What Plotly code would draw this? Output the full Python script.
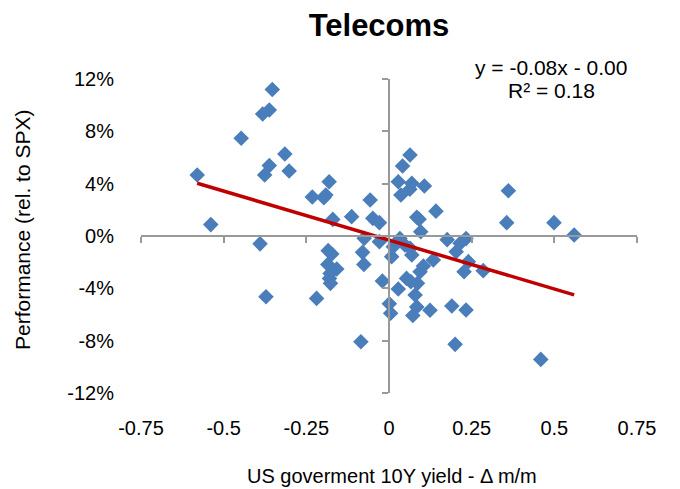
import numpy as np
import plotly.graph_objects as go

# US 10Y yield change m/m (x) and Telecoms performance rel. to SPX in % (y)
yield_change = [
    -0.580, -0.539, -0.447, -0.382, -0.362, -0.353, -0.315, -0.362, -0.302, -0.376,
    -0.390, -0.372, -0.232, -0.197, -0.191, -0.181, -0.170, -0.219, -0.184, -0.173,
    -0.185, -0.158, -0.178, -0.180, -0.177, -0.113, -0.057, -0.049, -0.029, -0.075,
    -0.029, -0.080, -0.076, -0.020, -0.085,
    0.0635, 0.041, 0.028, 0.069, 0.063, 0.107, 0.036, 0.361, 0.142, 0.084,
    0.091, 0.096, 0.356, 0.499, 0.560, 0.033, 0.176, 0.233, 0.215, 0.203,
    0.013, 0.048, 0.064, 0.008, 0.069, 0.134, 0.240, 0.285, 0.227, 0.104,
    0.094, 0.053, 0.066, 0.086, 0.028, 0.079, 0.001, 0.005, 0.084, 0.072,
    0.124, 0.190, 0.233, 0.200, 0.459,
]
performance = [
    4.66, 0.87, 7.47, 9.33, 9.63, 11.2, 6.27, 5.38, 4.97, 4.66,
    -0.60, -4.64, 2.98, 2.93, 3.13, 4.15, 1.27, -4.77, -1.12, -1.38,
    -2.17, -2.52, -2.86, -3.24, -3.62, 1.48, 2.75, 1.35, 1.02, -0.18,
    -0.43, -1.25, -2.17, -3.44, -8.08,
    6.19, 5.35, 4.15, 4.03, 3.57, 3.82, 3.13, 3.46, 1.90, 1.43,
    1.28, 0.33, 1.02, 1.02, 0.08, -0.20, -0.28, -0.20, -0.56, -1.20,
    -0.82, -0.69, -0.94, -1.58, -1.45, -1.83, -1.96, -2.65, -2.73, -2.29,
    -2.73, -3.24, -3.49, -3.62, -4.05, -4.51, -5.18, -5.91, -5.42, -6.08,
    -5.68, -5.35, -5.66, -8.28, -9.43,
]

x_ticks = [-0.75, -0.5, -0.25, 0, 0.25, 0.5, 0.75]
x_ticklabels = ["-0.75", "-0.5", "-0.25", "0", "0.25", "0.5", "0.75"]
y_ticks = [-12, -8, -4, 0, 4, 8, 12]
y_ticklabels = ["-12%", "-8%", "-4%", "0%", "4%", "8%", "12%"]

title_text = "Telecoms"
x_title = "US goverment 10Y yield - Δ m/m"
y_title = "Performance (rel. to SPX)"
equation_line1 = "y = -0.08x - 0.00"
equation_line2 = "R² = 0.18"

FONT = "Arial, 'Liberation Sans', sans-serif"
AXIS_GREY = "#999999"

# linear trendline fitted on the data
xs = np.array(yield_change)
ys = np.array(performance)
slope, intercept = np.polyfit(xs, ys, 1)
trend_x = np.array([xs.min(), xs.max()])
trend_y = slope * trend_x + intercept

fig = go.Figure()
fig.add_trace(go.Scatter(
    x=yield_change, y=performance, mode="markers",
    marker=dict(symbol="diamond", size=12, color="#4A7EBB", line=dict(width=0)),
    showlegend=False, hoverinfo="skip",
))
fig.add_trace(go.Scatter(
    x=trend_x, y=trend_y, mode="lines",
    line=dict(color="#C00000", width=3.5),
    showlegend=False, hoverinfo="skip",
))
# invisible trace to create the crossing axes subplot
fig.add_trace(go.Scatter(
    x=[0], y=[0], xaxis="x2", yaxis="y2", mode="markers",
    marker=dict(opacity=0), showlegend=False, hoverinfo="skip",
))

PT, PB, PL, PR = 79, 393, 141, 637  # plot area in pixels


def px_x(p):
    return (p - PL) / (PR - PL)


def px_y(p):
    return (PB - p) / (PB - PT)


fig.update_layout(
    width=680, height=489,
    margin=dict(l=PL, r=680 - PR, t=PT, b=489 - PB),
    paper_bgcolor="white", plot_bgcolor="white",
    font=dict(family=FONT, color="#000000"),
    title=dict(text="<b>" + title_text + "</b>", x=379 / 680, xanchor="center",
               y=1 - 25 / 489, yanchor="middle",
               font=dict(family=FONT, size=31, color="#000000")),
    xaxis=dict(
        range=[-0.75, 0.75], domain=[0, 1], tickvals=x_ticks, ticktext=x_ticklabels,
        showgrid=False, zeroline=False, showline=False,
        ticks="outside", ticklen=17, tickcolor="rgba(0,0,0,0)",
        tickfont=dict(family=FONT, size=20, color="#000000"),
    ),
    yaxis=dict(
        range=[-12, 12], domain=[0, 1], tickvals=y_ticks, ticktext=y_ticklabels,
        showgrid=False, zeroline=False, showline=False,
        ticks="outside", ticklen=22, tickcolor="rgba(0,0,0,0)",
        tickfont=dict(family=FONT, size=20, color="#000000"),
    ),
    xaxis2=dict(
        overlaying="x", matches="x", anchor="free", position=0.5,
        range=[-0.75, 0.75], tickvals=x_ticks, showticklabels=False,
        showgrid=False, zeroline=False, showline=True, linecolor=AXIS_GREY, linewidth=2,
        ticks="outside", ticklen=6, tickwidth=2, tickcolor=AXIS_GREY,
    ),
    yaxis2=dict(
        overlaying="y", matches="y", anchor="free", position=0.5,
        range=[-12, 12], tickvals=y_ticks, showticklabels=False,
        showgrid=False, zeroline=False, showline=True, linecolor=AXIS_GREY, linewidth=2,
        ticks="outside", ticklen=6, tickwidth=2, tickcolor=AXIS_GREY,
    ),
    annotations=[
        dict(text=x_title, xref="paper", yref="paper", x=px_x(392), y=px_y(476),
             xanchor="center", yanchor="middle", showarrow=False,
             font=dict(family=FONT, size=20, color="#000000")),
        dict(text=y_title, xref="paper", yref="paper", x=px_x(22), y=px_y(230),
             xanchor="center", yanchor="middle", textangle=-90, showarrow=False,
             font=dict(family=FONT, size=21, color="#000000")),
        dict(text=equation_line1, xref="paper", yref="paper", x=px_x(551),
             y=px_y(68), xanchor="center", yanchor="middle",
             showarrow=False, font=dict(family=FONT, size=21, color="#000000")),
        dict(text=equation_line2, xref="paper", yref="paper", x=px_x(551),
             y=px_y(90), xanchor="center", yanchor="middle",
             showarrow=False, font=dict(family=FONT, size=21, color="#000000")),
    ],
)

fig.write_html("out.html", config={"displayModeBar": False},
               post_script="document.body.style.margin='0';")
